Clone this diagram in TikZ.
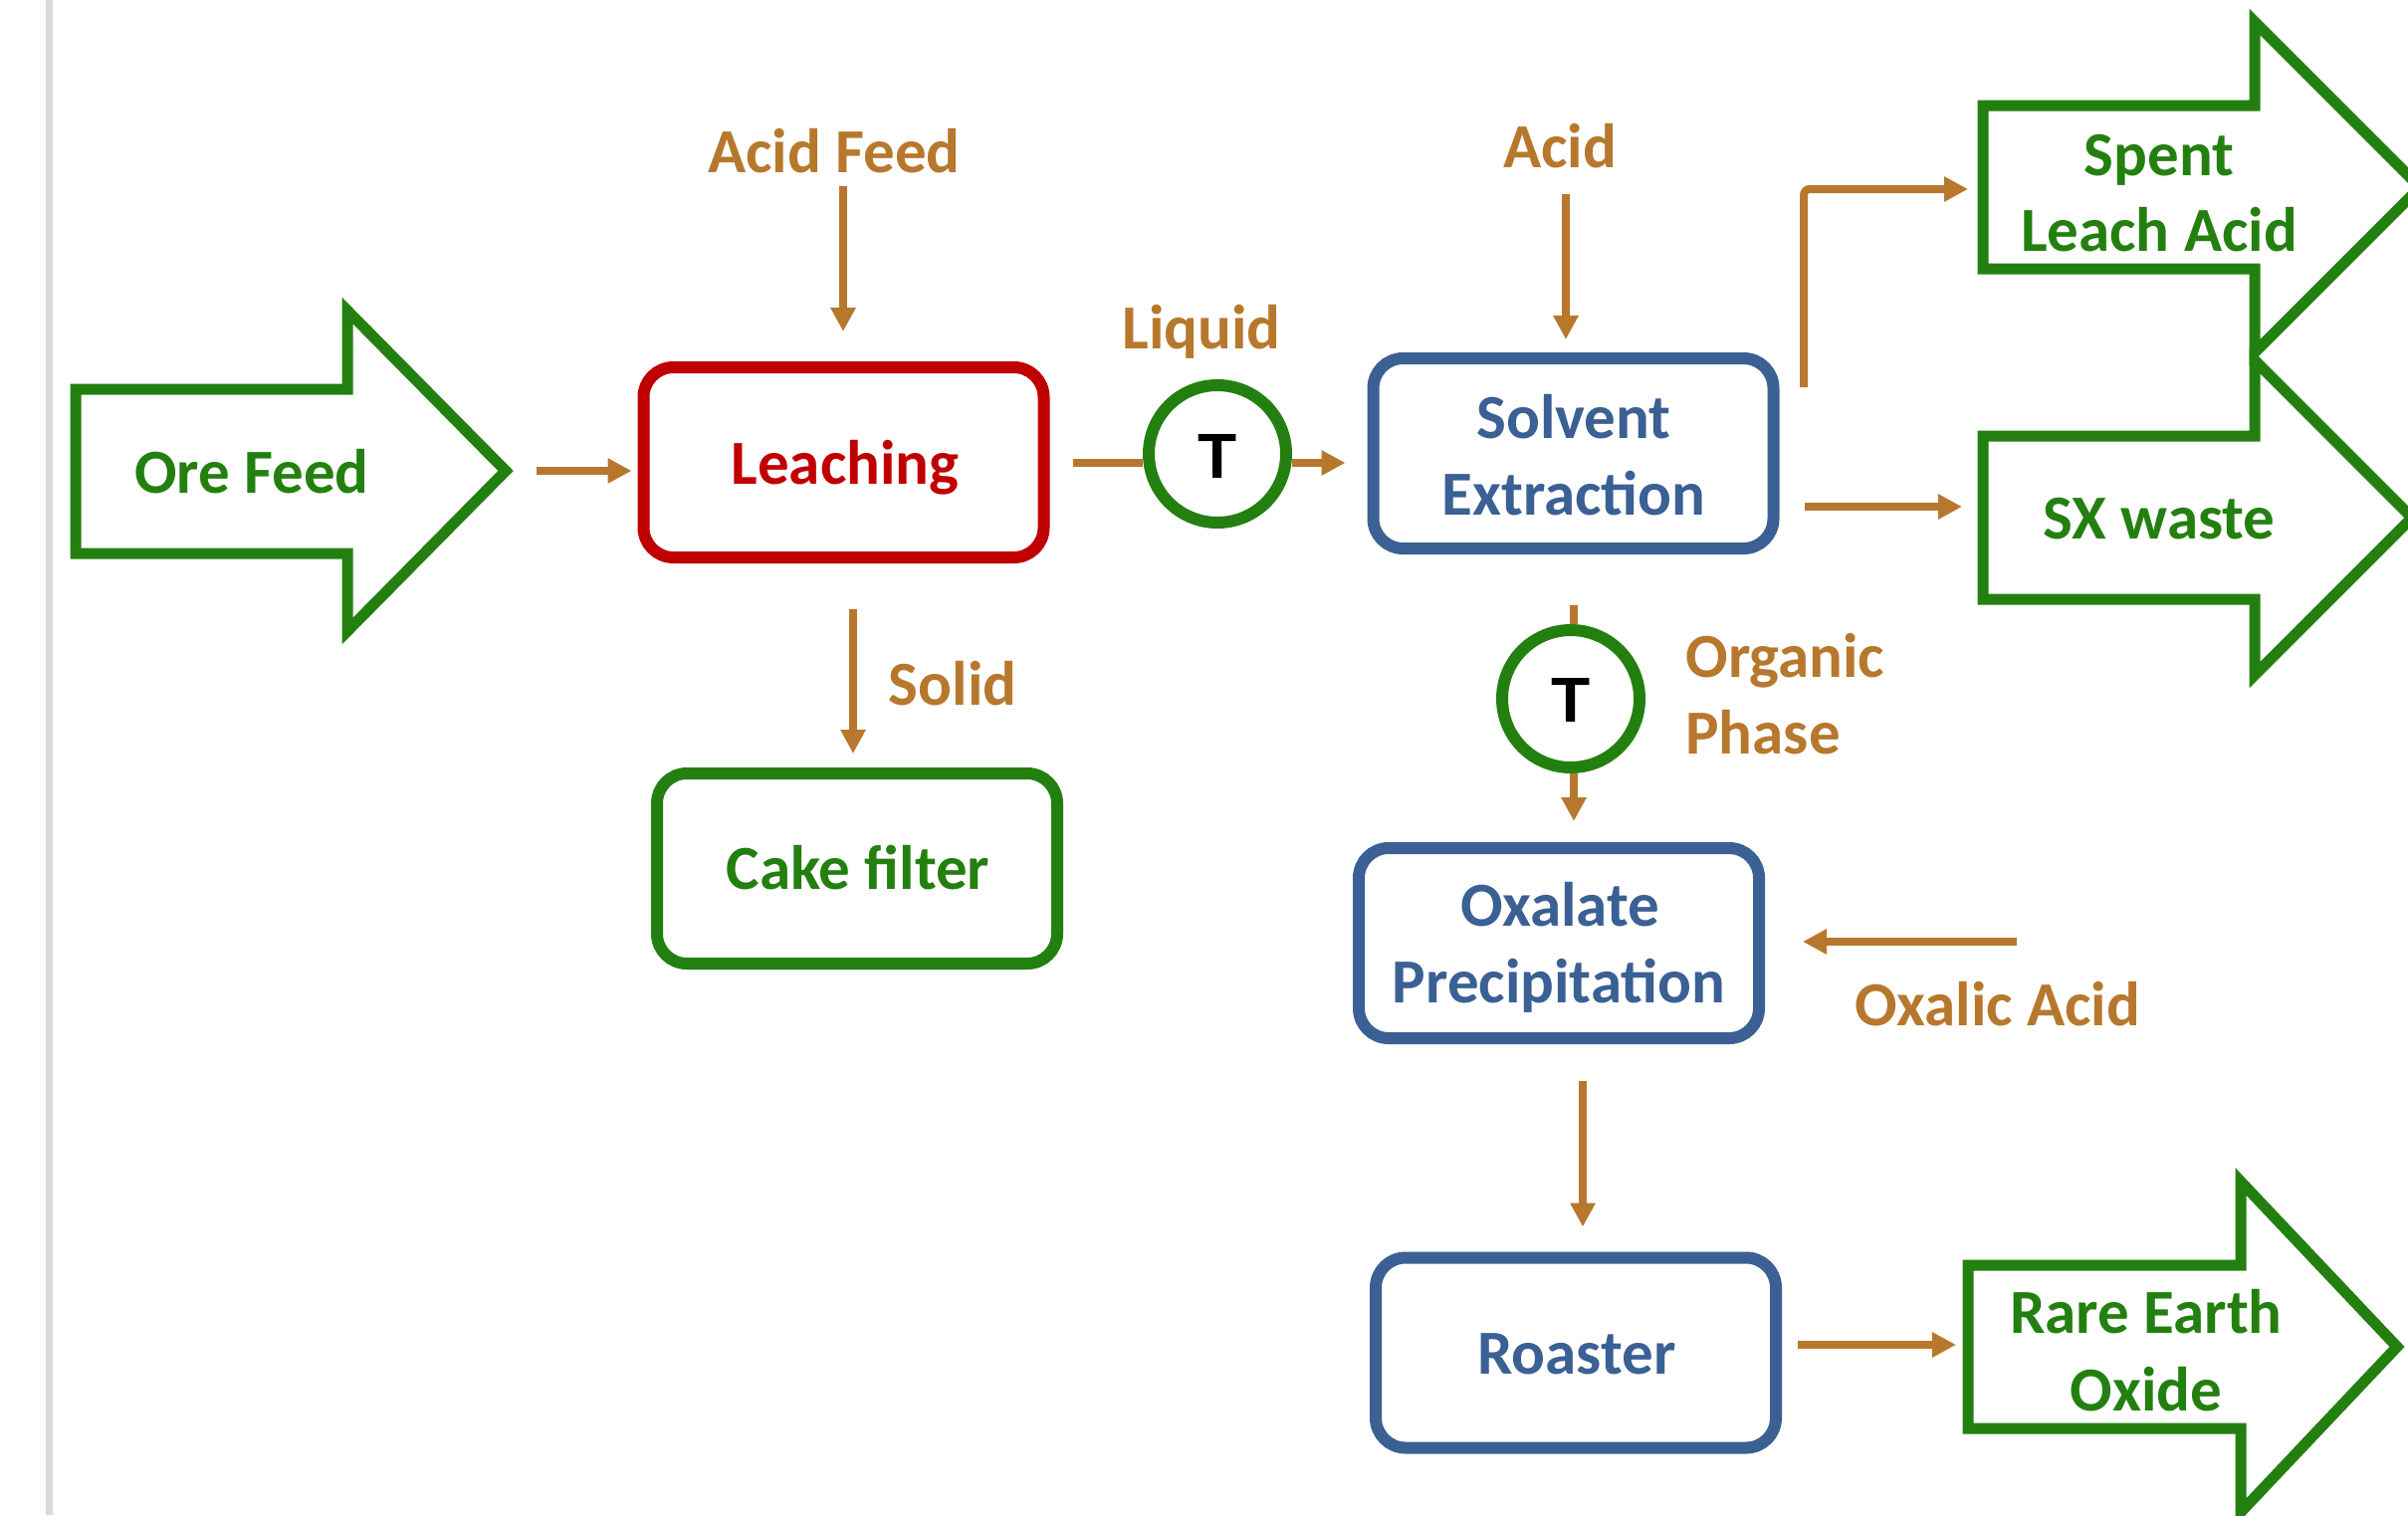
\documentclass[tikz,border=0pt]{standalone}
\usepackage{fontspec}
\setmainfont{Carlito}
\newfontfamily\tfont{Liberation Sans}
\usetikzlibrary{arrows.meta}
\definecolor{cgreen}{RGB}{35,128,16}
\definecolor{cbrown}{RGB}{183,120,45}
\definecolor{cblue}{RGB}{58,96,148}
\definecolor{cred}{RGB}{192,0,0}
\definecolor{cgray}{RGB}{217,217,217}
\begin{document}
\begin{tikzpicture}[x=0.5pt,y=-0.5pt,
  box/.style={draw, line width=6pt, rounded corners=15pt, minimum width=201pt, minimum height=95.5pt, inner sep=0pt, fill=white},
  lbl/.style={font=\bfseries\fontsize{31.5}{38.5}\selectfont, anchor=base, inner sep=0pt, align=center},
  flow/.style={draw=cbrown, line width=4pt, -{Triangle[length=12pt,width=12pt]}},
  flowline/.style={draw=cbrown, line width=4pt},
  bigarrow/.style={draw=cgreen, line width=5.5pt, miter limit=10, line join=miter},
  tank/.style={circle, draw=cgreen, line width=6pt, minimum size=69pt, inner sep=0pt, fill=white},
  tlbl/.style={font=\tfont\bfseries\fontsize{32}{38}\selectfont, anchor=base, inner sep=0pt},
]
\useasboundingbox (0,0) rectangle (2419,1522);
\clip (0,0) rectangle (2419,1522);
\fill[white] (0,0) rectangle (2419,1522);
\draw[cgray, line width=3.5pt] (49,0) -- (49,1522);

% big green arrows
\draw[bigarrow] (76,391) -- (349,391) -- (349,312) -- (508,473) -- (349,634) -- (349,556) -- (76,556) -- cycle;
\draw[bigarrow] (1992,106) -- (2265,106) -- (2265,22) -- (2431,188) -- (2265,354) -- (2265,270) -- (1992,270) -- cycle;
\draw[bigarrow] (1992,438) -- (2265,438) -- (2265,362) -- (2423,520) -- (2265,678) -- (2265,602) -- (1992,602) -- cycle;
\draw[bigarrow] (1977,1271) -- (2251,1271) -- (2251,1187) -- (2408,1353) -- (2251,1519) -- (2251,1435) -- (1977,1435) -- cycle;

% process boxes
\node[box, draw=cred]   (leach)  at (847.5,464.5) {};
\node[box, draw=cgreen] (cake)   at (861,872.5) {};
\node[box, draw=cblue]  (solv)   at (1580.5,455.5) {};
\node[box, draw=cblue]  (oxal)   at (1566,947.5) {};
\node[box, draw=cblue]  (roast)  at (1583,1359) {};
\node[tank] (t1) at (1223,456) {};
\node[tank] (t2) at (1578,702) {};

% texts
\node[lbl, text=cgreen] (oreT) at (253,495) {Ore Feed};
\node[lbl, text=cred] (leachT) at (849,486) {Leaching};
\node[lbl, text=cgreen] (cakeT) at (862,893) {Cake filter};
\node[lbl, text=cblue] (solvT1) at (1581,440) {Solvent};
\node[lbl, text=cblue] (solvT2) at (1581,517) {Extraction};
\node[lbl, text=cblue] (oxalT1) at (1567,930) {Oxalate};
\node[lbl, text=cblue] (oxalT2) at (1566,1007) {Precipitation};
\node[lbl, text=cblue] (roastT) at (1584,1380) {Roaster};
\node[lbl, text=cgreen] (spentT1) at (2169,176) {Spent};
\node[lbl, text=cgreen] (spentT2) at (2169,252) {Leach Acid};
\node[lbl, text=cgreen] (sxT) at (2169,541) {SX waste};
\node[lbl, text=cgreen] (reoT1) at (2156,1339) {Rare Earth};
\node[lbl, text=cgreen] (reoT2) at (2156,1417) {Oxide};
\node[lbl, text=cbrown] (acidFeedT) at (838,173) {Acid Feed};
\node[lbl, text=cbrown] (acidT) at (1567,168) {Acid};
\node[lbl, text=cbrown] (liqT) at (1207,350) {Liquid};
\node[lbl, text=cbrown] (solidT) at (957,708) {Solid};
\node[lbl, text=cbrown, anchor=base west] (orgT1) at (1693,680) {Organic};
\node[lbl, text=cbrown, anchor=base west] (orgT2) at (1693,757) {Phase};
\node[lbl, text=cbrown] (oxacT) at (2007,1030) {Oxalic Acid};
\node[tlbl] (t1T) at (1223,480) {T};
\node[tlbl] (t2T) at (1578,725) {T};

% connector coordinates
\coordinate (p1) at (539,473);
\coordinate (p2) at (847,187);
\coordinate (p3) at (857,612);
\coordinate (p4) at (1078,465);
\coordinate (p6) at (1573,195);
\coordinate (p7) at (1812,389);
\coordinate (p7e) at (1977,190);
\coordinate (p8) at (1813,509);
\coordinate (p8e) at (1971,509);
\coordinate (p9) at (1581,608);
\coordinate (p11) at (2026,946);
\coordinate (p12) at (1590,1086);
\coordinate (p13) at (1806,1351);
\coordinate (p13e) at (1965,1351);

% connectors
\draw[flow, shorten >=3pt] (p1) -- (p1 -| leach.west);
\draw[flow, shorten >=15pt] (p2) -- (p2 |- leach.north);
\draw[flow, shorten >=7pt] (p3) -- (p3 |- cake.north);
\draw[flowline] (p4) -- (p4 -| t1.west);
\draw[flow, shorten >=11pt] (p4 -| t1.east) -- (p4 -| solv.west);
\draw[flow, shorten >=6.5pt] (p6) -- (p6 |- solv.north);
\draw[flow, rounded corners=3pt] (p7) |- (p7e);
\draw[flow] (p8) -- (p8e);
\draw[flowline] (p9) -- (p9 |- t2.north);
\draw[flow, shorten >=10.5pt] (p9 |- t2.south) -- (p9 |- oxal.north);
\draw[flow, shorten >=19pt] (p11) -- (p11 -| oxal.east);
\draw[flow, shorten >=12.5pt] (p12) -- (p12 |- roast.north);
\draw[flow] (p13) -- (p13e);
\end{tikzpicture}
\end{document}
